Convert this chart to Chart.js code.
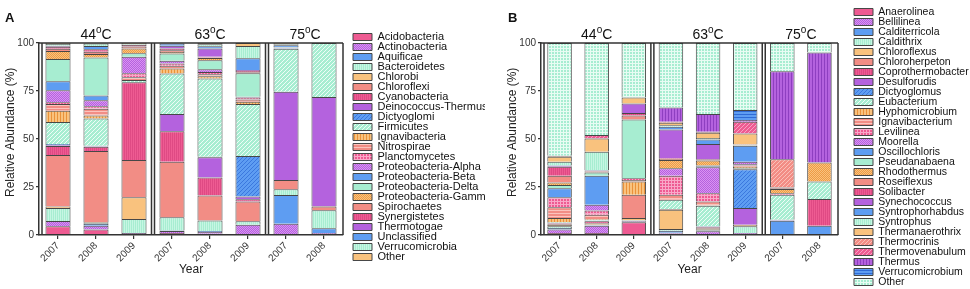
<!DOCTYPE html>
<html><head><meta charset="utf-8">
<script src="https://cdn.jsdelivr.net/npm/chart.js@4.4.1/dist/chart.umd.min.js"></script>
<style>
html,body{margin:0;padding:0;background:#fff;}
#wrap{position:relative;width:970px;height:289px;overflow:hidden;background:#fff;}
canvas{position:absolute;top:0;}
#ca{left:0;} #cb{left:485px;}
</style></head><body>
<div id="wrap"><canvas id="ca" width="485" height="289"></canvas><canvas id="cb" width="485" height="289"></canvas></div>
<script>
// ---------- categories / labels ----------
const years = ['2007','2008','2009','2007','2008','2009','2007','2008'];
const groupTemps = ['44','63','75'];
const groupSpans = [[0,2],[3,5],[6,7]];
const yTicks = [0,25,50,75,100];

// ---------- Panel A (phylum level) ----------
const A_Acidobacteria        = [4.5, 2.8, 0.4, 1.0, 0.7, 0.5, 0, 0.5];
const A_Actinobacteria       = [2.8, 2.0, 0.6, 1.1, 0.9, 4.9, 5.9, 0.5];
const A_Aquificae            = [0, 1.1, 0, 0.2, 0.5, 0, 14.9, 2.5];
const A_Bacteroidetes        = [6.7, 0.3, 7.3, 7.0, 5.5, 1.7, 3.0, 9.4];
const A_Chlorobi             = [0.8, 0.4, 11.4, 0, 0, 0, 0, 0];
const A_Chloroflexi          = [26.9, 37.2, 19.4, 28.9, 13.0, 10.4, 4.8, 2.0];
const A_Cyanobacteria        = [4.7, 2.2, 40.4, 15.8, 9.3, 1.1, 0, 0.2];
const A_DeinococcusThermus   = [0.4, 0.2, 0, 9.0, 10.6, 1.4, 46.0, 56.8];
const A_Dictyoglomi          = [0.6, 0.3, 0, 0, 0.3, 21.1, 0, 0];
const A_Firmicutes           = [11.4, 14.2, 1.2, 21.1, 40.7, 27.1, 22.4, 28.1];
const A_Ignavibacteria       = [5.9, 1.6, 0, 2.6, 1.2, 1.2, 0, 0];
const A_Nitrospirae          = [3.5, 3.4, 1.5, 1.5, 1.0, 1.2, 0, 0];
const A_Planctomycetes       = [1.0, 1.4, 2.0, 1.1, 1.2, 1.0, 0, 0];
const A_ProteoAlpha          = [6.2, 3.1, 8.7, 1.4, 1.4, 0.4, 0.2, 0];
const A_ProteoBeta           = [4.7, 2.5, 0, 0, 0, 0, 0.2, 0];
const A_ProteoDelta          = [11.6, 19.8, 1.7, 3.8, 4.7, 12.2, 0.2, 0];
const A_ProteoGamma          = [4.1, 1.8, 2.6, 0.8, 1.2, 0, 0.2, 0];
const A_Spirochaetes         = [1.2, 1.2, 1.0, 0.9, 0.3, 0.6, 0, 0];
const A_Synergistetes        = [1.0, 1.2, 0.8, 0.9, 0.3, 0.6, 0, 0];
const A_Thermotogae          = [0.4, 0.2, 0, 1.5, 4.3, 0.5, 0, 0];
const A_Unclassified         = [0.2, 1.5, 0, 1.1, 1.2, 6.1, 1.0, 0];
const A_Verrucomicrobia      = [0.9, 1.4, 0.4, 0, 1.0, 6.4, 0.6, 0];
const A_Other                = [0.5, 0.2, 0.6, 0.3, 0.7, 1.6, 0.6, 0];

// ---------- Panel B (genus level) ----------
const B_Anaerolinea       = [1.0, 1.0, 6.7, 0.7, 0.5, 0.5, 0, 0];
const B_Bellilinea        = [1.8, 3.8, 0.4, 0.5, 1.4, 0.5, 0, 0];
const B_Calditerricola    = [0.8, 0.3, 0.3, 1.0, 0.4, 0, 7.4, 4.8];
const B_Caldithrix        = [0.9, 0.3, 0.3, 0.9, 0.4, 3.5, 0, 0];
const B_Chloroflexus      = [0.7, 0.4, 1.1, 10.0, 0.4, 0.9, 0, 0];
const B_Chloroherpeton    = [0.4, 0.4, 12.1, 0.4, 0.4, 0, 0, 0];
const B_Coprothermobacter = [0.4, 1.0, 0, 0, 0.5, 0, 0, 13.9];
const B_Desulforudis      = [0.3, 0.2, 0, 0, 0.3, 8.6, 0.3, 0];
const B_Dictyoglomus      = [0, 0.2, 0, 0, 0.2, 20.3, 0.3, 0];
const B_Eubacterium       = [0.3, 0.4, 0, 4.8, 10.7, 0.5, 12.9, 9.2];
const B_Hyphomicrobium    = [2.2, 0.3, 7.0, 0, 0.3, 0.8, 0, 0];
const B_Ignavibacterium   = [5.7, 2.3, 0.8, 2.6, 2.0, 0.6, 0, 0];
const B_Levilinea         = [5.2, 2.2, 0.9, 9.9, 4.3, 0.6, 0.9, 0];
const B_Moorella          = [0, 2.9, 0, 4.0, 13.5, 1.4, 0, 0];
const B_Oscillochloris    = [4.7, 15.1, 0, 0, 0.5, 8.3, 0, 0];
const B_Pseudanabaena     = [1.7, 1.7, 30.6, 0, 0.4, 0.3, 0, 0];
const B_Rhodothermus      = [1.2, 0.3, 0, 4.3, 2.6, 0.3, 2.1, 9.8];
const B_Roseiflexus       = [3.5, 0.3, 2.0, 0.5, 0.3, 0.2, 0.4, 0];
const B_Solibacter        = [4.8, 0.3, 1.3, 0.4, 0.3, 0.1, 0.4, 0];
const B_Synechococcus     = [0.3, 0.2, 5.0, 15.0, 8.0, 0, 0, 0];
const B_Syntrophorhabdus  = [0.3, 0.3, 0, 1.4, 2.4, 0, 0, 0];
const B_Syntrophus        = [2.0, 9.5, 0, 0.7, 0.7, 0, 0, 0];
const B_Thermanaerothrix  = [2.6, 6.9, 3.1, 1.4, 2.8, 5.5, 0, 0];
const B_Thermocrinis      = [0.3, 0.2, 0, 0.5, 0.3, 0, 14.7, 0];
const B_Thermovenabulum   = [0.2, 1.6, 0, 0, 0.2, 6.1, 0, 0];
const B_Thermus           = [0, 0, 0, 7.4, 9.2, 0.9, 45.9, 57.3];
const B_Verrucomicrobium  = [0, 0, 0, 0, 0, 5.2, 0, 0];
const B_Other             = [58.7, 47.9, 28.4, 33.6, 37.0, 34.9, 14.7, 5.0];

const seriesA = [
  ['Acidobacteria', A_Acidobacteria], ['Actinobacteria', A_Actinobacteria], ['Aquificae', A_Aquificae],
  ['Bacteroidetes', A_Bacteroidetes], ['Chlorobi', A_Chlorobi], ['Chloroflexi', A_Chloroflexi],
  ['Cyanobacteria', A_Cyanobacteria], ['Deinococcus-Thermus', A_DeinococcusThermus], ['Dictyoglomi', A_Dictyoglomi],
  ['Firmicutes', A_Firmicutes], ['Ignavibacteria', A_Ignavibacteria], ['Nitrospirae', A_Nitrospirae],
  ['Planctomycetes', A_Planctomycetes], ['Proteobacteria-Alpha', A_ProteoAlpha], ['Proteobacteria-Beta', A_ProteoBeta],
  ['Proteobacteria-Delta', A_ProteoDelta], ['Proteobacteria-Gamma', A_ProteoGamma], ['Spirochaetes', A_Spirochaetes],
  ['Synergistetes', A_Synergistetes], ['Thermotogae', A_Thermotogae], ['Unclassified', A_Unclassified],
  ['Verrucomicrobia', A_Verrucomicrobia], ['Other', A_Other]
];
const seriesB = [
  ['Anaerolinea', B_Anaerolinea], ['Bellilinea', B_Bellilinea], ['Calditerricola', B_Calditerricola],
  ['Caldithrix', B_Caldithrix], ['Chloroflexus', B_Chloroflexus], ['Chloroherpeton', B_Chloroherpeton],
  ['Coprothermobacter', B_Coprothermobacter], ['Desulforudis', B_Desulforudis], ['Dictyoglomus', B_Dictyoglomus],
  ['Eubacterium', B_Eubacterium], ['Hyphomicrobium', B_Hyphomicrobium], ['Ignavibacterium', B_Ignavibacterium],
  ['Levilinea', B_Levilinea], ['Moorella', B_Moorella], ['Oscillochloris', B_Oscillochloris],
  ['Pseudanabaena', B_Pseudanabaena], ['Rhodothermus', B_Rhodothermus], ['Roseiflexus', B_Roseiflexus],
  ['Solibacter', B_Solibacter], ['Synechococcus', B_Synechococcus], ['Syntrophorhabdus', B_Syntrophorhabdus],
  ['Syntrophus', B_Syntrophus], ['Thermanaerothrix', B_Thermanaerothrix], ['Thermocrinis', B_Thermocrinis],
  ['Thermovenabulum', B_Thermovenabulum], ['Thermus', B_Thermus], ['Verrucomicrobium', B_Verrucomicrobium],
  ['Other', B_Other]
];

// ---------- styles ----------
const PALETTE = {pink:'#EE5B92', purple:'#B462DE', blue:'#5E9DF2', mint:'#A7EDD1', orange:'#F9C27E', salmon:'#F28D85'};
const ACCENT = {
  pink:   {vfine:'#DF4A84', grid:'#F9A8C8', diag:'#F8A2C2'},
  purple: {checker:'#DA93F2', vlines:'#8E3FC0'},
  blue:   {diag:'#3B78DE', hlines:'#2F6BD6'},
  mint:   {vfine:'#C6F6E3', diag:'#EEFDF7', grid:'#E8FCF3'},
  orange: {vlines:'#E9923A', checker:'#EE9B45'},
  salmon: {hlines:'#FBC3BD', diag:'#FAC0B9'}
};
const COLOR_CYCLE = ['pink','purple','blue','mint','orange','salmon'];
const PATTERN_KIND = ['plain','checker','plain','vfine','plain','plain','vfine','plain','diag','diag',
  'vlines','hlines','grid','checker','plain','plain','checker','plain','vfine','plain',
  'plain','vfine','plain','diag','diag','vlines','hlines','grid'];

function makeFill(ctx, i){
  const cname = COLOR_CYCLE[i % 6];
  const kind = PATTERN_KIND[i];
  const base = PALETTE[cname];
  if (kind === 'plain') return base;
  const acc = ACCENT[cname][kind];
  const dims = {vfine:[2,1], checker:[2,2], diag:[4,4], vlines:[3,1], hlines:[1,3], grid:[3,3]}[kind];
  const c = document.createElement('canvas');
  c.width = dims[0]; c.height = dims[1];
  const x = c.getContext('2d');
  x.fillStyle = base; x.fillRect(0,0,c.width,c.height);
  x.fillStyle = acc;
  if (kind === 'vfine' || kind === 'vlines' || kind === 'hlines') x.fillRect(0,0,1,1);
  else if (kind === 'checker') { x.fillRect(0,0,1,1); x.fillRect(1,1,1,1); }
  else if (kind === 'diag') { for (let k=0;k<4;k++) x.fillRect(k,3-k,1,1); }
  else if (kind === 'grid') { x.fillRect(0,0,3,1); x.fillRect(0,0,1,3); }
  return ctx.createPattern(c, 'repeat');
}

const FONT = '"Liberation Sans", Arial, Helvetica, sans-serif';
Chart.defaults.font.family = FONT;
Chart.defaults.color = '#222';

const legendFix = {
  id: 'legendFix',
  beforeUpdate(chart, args, opts){
    const lg = chart.legend;
    if (lg && !lg._fixedFit){
      const orig = lg.fit;
      lg.fit = function(){ orig.call(this); this.width = chart.width - opts.plotRight; };
      lg.draw = function(){ if (this.options.display){ this.ctx.save(); this._draw(); this.ctx.restore(); } };
      lg._fixedFit = true;
    }
  },
  afterLayout(chart, args, opts){
    const lg = chart.legend;
    lg.left = opts.legendX; lg.right = chart.width + 30;
    lg.top = opts.legendY; lg.bottom = chart.height + 60;
    lg.width = lg.right - lg.left; lg.height = lg.bottom - lg.top;
  }
};

const decor = {
  id: 'decor',
  afterDatasetsDraw(chart, args, opts){
    const {ctx, chartArea: ca} = chart;
    const x = chart.scales.x;
    ctx.save();
    ctx.strokeStyle = '#333'; ctx.lineWidth = 1.5;
    ctx.beginPath();
    ctx.moveTo(ca.left, ca.top); ctx.lineTo(ca.right, ca.top);
    ctx.moveTo(ca.right, ca.top); ctx.lineTo(ca.right, ca.bottom);
    ctx.moveTo(ca.left + 3, ca.top); ctx.lineTo(ca.left + 3, ca.bottom);
    for (let g = 1; g < groupSpans.length; g++){
      const b = groupSpans[g][0];
      const px = (x.getPixelForValue(b - 1) + x.getPixelForValue(b)) / 2;
      ctx.moveTo(px - 1.5, ca.top); ctx.lineTo(px - 1.5, ca.bottom);
      ctx.moveTo(px + 1.5, ca.top); ctx.lineTo(px + 1.5, ca.bottom);
    }
    ctx.stroke();
    ctx.restore();
  },
  afterDraw(chart, args, opts){
    const {ctx} = chart;
    const x = chart.scales.x;
    ctx.save();
    ctx.fillStyle = '#111';
    ctx.textBaseline = 'alphabetic';
    ctx.textAlign = 'left';
    groupSpans.forEach((sp, g) => {
      const cx = (x.getPixelForValue(sp[0]) + x.getPixelForValue(sp[1])) / 2;
      const big = '14px ' + FONT, small = '10px ' + FONT;
      ctx.font = big; const w1 = ctx.measureText(groupTemps[g]).width; const w3 = ctx.measureText('C').width;
      ctx.font = small; const w2 = ctx.measureText('o').width;
      let sx = cx - (w1 + w2 + w3) / 2;
      ctx.font = big; ctx.fillText(groupTemps[g], sx, 39); sx += w1;
      ctx.font = small; ctx.fillText('o', sx, 33); sx += w2;
      ctx.font = big; ctx.fillText('C', sx, 39);
    });
    ctx.font = 'bold 13px ' + FONT;
    ctx.fillText(opts.letter, opts.letterX, 22);
    ctx.restore();
  }
};

function makePanel(id, series, geom){
  const canvas = document.getElementById(id);
  const ctx = canvas.getContext('2d');
  const datasets = series.map((s, i) => ({
    label: s[0], data: s[1],
    backgroundColor: makeFill(ctx, i),
    borderColor: '#474747', borderWidth: 1,
    barPercentage: 0.66, categoryPercentage: 1.0
  }));
  return new Chart(ctx, {
    type: 'bar',
    data: {labels: years, datasets},
    plugins: [legendFix, decor],
    options: {
      responsive: false, animation: false, devicePixelRatio: 1,
      layout: {padding: {top: 43, left: 0, right: 0, bottom: 0}},
      scales: {
        x: {
          stacked: true, offset: true,
          grid: {display: true, drawOnChartArea: false, drawTicks: true, tickLength: 4, offset: false, color: '#333', lineWidth: 1.2},
          border: {display: true, color: '#333', width: 1.5, z: 1},
          ticks: {maxRotation: 45, minRotation: 45, autoSkip: false, font: {size: 10}, color: '#333', padding: 1},
          title: {display: true, text: 'Year', font: {size: 12}, color: '#222', padding: {top: 0, bottom: 12}},
          afterFit(s){ s.height = 54; }
        },
        y: {
          stacked: true, min: 0, max: 100,
          afterBuildTicks(s){ s.ticks = yTicks.map(v => ({value: v})); },
          grid: {display: true, drawOnChartArea: false, drawTicks: true, tickLength: 3, color: '#333', lineWidth: 1.2},
          border: {display: true, color: '#333', width: 1.5, z: 1},
          ticks: {font: {size: 10}, color: '#333', padding: 2},
          title: {display: true, text: '    Relative Abundance (%)', font: {size: 12}, color: '#222', padding: {top: geom.yTitlePad, bottom: 0}},
          afterFit(s){ s.width = geom.left; }
        }
      },
      plugins: {
        legend: {
          display: true, position: 'right', align: 'start',
          labels: {boxWidth: 19, boxHeight: 7, padding: geom.legPad, color: '#111', font: {size: geom.legFont}}
        },
        tooltip: {enabled: false},
        legendFix: {plotRight: geom.right, legendX: geom.legendX, legendY: geom.legendY},
        decor: {letter: geom.letter, letterX: geom.letterX}
      }
    }
  });
}

makePanel('ca', seriesA, {left: 39, right: 343, legendX: 354, legendY: 32.5, legFont: 11, legPad: -1, yTitlePad: 3, letter: 'A', letterX: 5});
makePanel('cb', seriesB, {left: 56, right: 353, legendX: 369.5, legendY: 7.25, legFont: 10.5, legPad: -0.5, yTitlePad: 20, letter: 'B', letterX: 23});
</script>
</body></html>
